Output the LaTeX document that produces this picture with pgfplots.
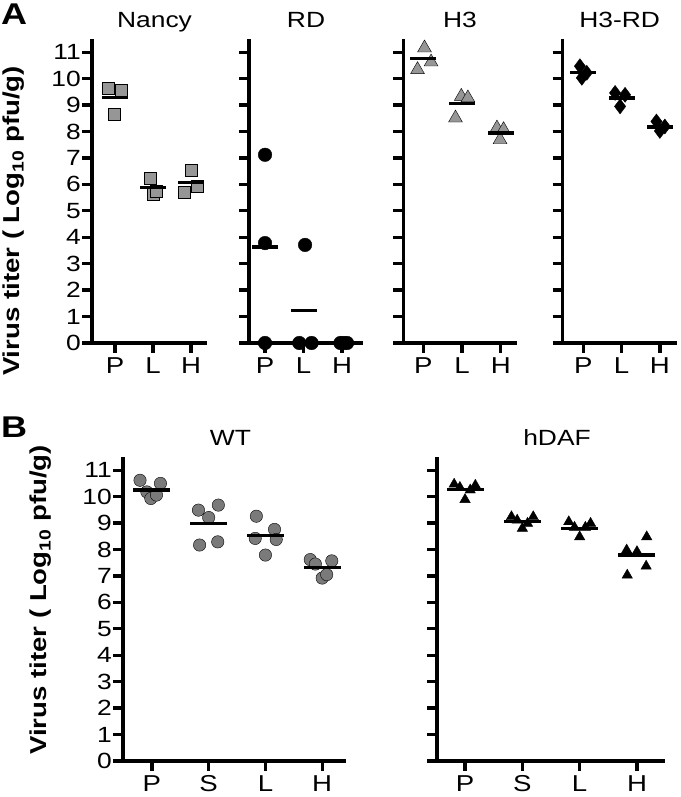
\documentclass[border=0pt]{standalone}
\usepackage{fontspec}
\setmainfont{Liberation Sans}[FakeStretch=1.2]
\usepackage{pgfplots}
\pgfplotsset{compat=1.18}
\definecolor{nancygray}{RGB}{150,150,150}
\definecolor{wtgray}{RGB}{122,122,122}
\pgfplotsset{
  every axis title/.style={at={(0.5,1)}, anchor=base, yshift=11pt, font=\fontsize{22}{22}\selectfont},
  base/.style={
    scale only axis, height=304pt,
    axis lines=left,
    axis line style={line width=3.3pt,-},
    tick align=outside, major tick length=10pt,
    tick style={line width=3.3pt, black},
    ymin=0, ymax=11.5, ytick={0,1,...,11},
    clip=false,
    /pgf/number format/assume math mode=true,
    yticklabel style={font=\fontsize{22}{22}\selectfont, inner sep=1pt},
    xticklabel style={font=\fontsize{23}{23}\selectfont, inner sep=2pt, yshift=-2pt},
    ylabel style={font=\bfseries\fontsize{23}{23}\selectfont},
  },
  noy/.style={yticklabels={}},
  meanA/.style={only marks, mark=-, mark size=13pt, mark options={line width=3.2pt, black}},
  meanB/.style={only marks, mark=-, mark size=18.5pt, mark options={line width=3.2pt, black}},
}
\begin{document}
\begin{tikzpicture}
\path[use as bounding box] (0pt,0pt) rectangle (680pt,797pt);
\node[anchor=north west, inner sep=0pt, font=\bfseries\fontsize{30}{30}\selectfont] at (1pt,793pt) {A};
\node[anchor=base west, inner sep=0pt, font=\bfseries\fontsize{30}{30}\selectfont] at (1pt,359pt) {B};

% Nancy
\begin{axis}[base, at={(92pt,454pt)}, anchor=south west, width=115pt,
  xmin=0.395, xmax=3.42, xtick={1,2,3}, xticklabels={P,L,H},
  title={Nancy}, title style={xshift=5pt},
  ylabel={Virus titer ( Log\textsubscript{10} pfu/g)},
  ylabel style={at={(axis description cs:-0.678,0.401)}, anchor=center}]
\addplot[only marks, mark=square*, mark size=6pt, mark options={fill=nancygray, draw=none}]
  coordinates {(0.82,9.65) (1.16,9.58) (0.98,8.67) (1.92,6.24) (2.0,5.64) (2.08,5.73) (3.0,6.55) (3.17,5.95) (2.82,5.71)};
\addplot[meanA] coordinates {(1,9.30) (2,5.87) (3,6.07)};
\end{axis}

% RD
\begin{axis}[base, noy, at={(249pt,454pt)}, anchor=south west, width=114pt,
  xmin=0.584, xmax=3.545, xtick={1,2,3}, xticklabels={P,L,H},
  title={RD}]
\addplot[only marks, mark=*, mark size=6.8pt, mark options={fill=black, draw=none}]
  coordinates {(1,7.12) (1,3.78) (1,0) (2.04,3.71) (1.89,0) (2.21,0) (2.96,0) (3.05,0) (3.13,0)};
\addplot[meanA] coordinates {(1,3.63) (2,1.24) (3,0)};
\end{axis}

% H3
\begin{axis}[base, noy, at={(403.3pt,454pt)}, anchor=south west, width=113.4pt,
  xmin=0.483, xmax=3.41, xtick={1,2,3}, xticklabels={P,L,H},
  title={H3}]
\addplot[only marks, mark=triangle*, mark size=8pt, mark options={fill=nancygray, draw=none}]
  coordinates {(1.03,11.16) (1.2,10.63) (0.85,10.34) (1.98,9.33) (2.15,9.27) (1.83,8.51) (2.9,8.13) (3.07,8.07) (2.98,7.69)};
\addplot[meanA] coordinates {(1,10.76) (2,9.05) (3,7.94)};
\end{axis}

% H3-RD
\begin{axis}[base, noy, at={(562.7pt,454pt)}, anchor=south west, width=114pt,
  xmin=0.46, xmax=3.44, xtick={1,2,3}, xticklabels={P,L,H},
  title={H3-RD}]
\addplot[only marks, mark=diamond*, mark size=7.5pt, mark options={fill=black, draw=none}]
  coordinates {(0.91,10.47) (1.09,10.22) (0.96,10.03) (1.83,9.46) (2.09,9.39) (1.96,8.95) (2.91,8.38) (3.13,8.19) (3.0,8.02)};
\addplot[meanA] coordinates {(1,10.24) (2,9.27) (3,8.17)};
\end{axis}

% WT
\begin{axis}[base, at={(123pt,36pt)}, anchor=south west, width=223pt,
  xmin=0.49, xmax=4.42, xtick={1,2,3,4}, xticklabels={P,S,L,H},
  title={WT}, title style={xshift=-4pt},
  ylabel={Virus titer ( Log\textsubscript{10} pfu/g)},
  ylabel style={at={(axis description cs:-0.368,0.53)}, anchor=center}]
\addplot[only marks, mark=*, mark size=6.2pt, mark options={fill=wtgray, draw=none}]
  coordinates {(0.79,10.62) (1.15,10.5) (0.91,10.18) (0.98,9.93) (1.08,10.06)
               (1.82,9.49) (2.17,9.68) (2.0,9.21) (1.84,8.17) (2.16,8.29)
               (2.84,9.26) (3.16,8.76) (2.82,8.42) (3.19,8.38) (3.0,7.79)
               (3.79,7.62) (3.88,7.45) (4.17,7.57) (4.0,6.92) (4.08,7.05)};
\addplot[meanB] coordinates {(1,10.25) (2,8.99) (3,8.54) (4,7.32)};
\end{axis}

% hDAF
\begin{axis}[base, noy, at={(437pt,36pt)}, anchor=south west, width=228pt,
  xmin=0.511, xmax=4.489, xtick={1,2,3,4}, xticklabels={P,S,L,H},
  title={hDAF}, title style={xshift=6pt}]
\addplot[only marks, mark=triangle*, mark size=6pt, mark options={fill=black, draw=none}]
  coordinates {(0.81,10.47) (0.91,10.35) (1.18,10.43) (1.09,10.25) (1.0,9.89)
               (1.81,9.24) (1.91,9.11) (2.19,9.24) (2.09,8.99) (2.0,8.8)
               (2.81,9.05) (2.91,8.84) (3.19,8.99) (3.1,8.84) (3.0,8.48)
               (4.17,8.48) (3.82,7.98) (4.0,7.92) (4.16,7.37) (3.83,7.03)};
\addplot[meanB] coordinates {(1,10.27) (2,9.05) (3,8.80) (4,7.79)};
\end{axis}
\end{tikzpicture}
\end{document}
